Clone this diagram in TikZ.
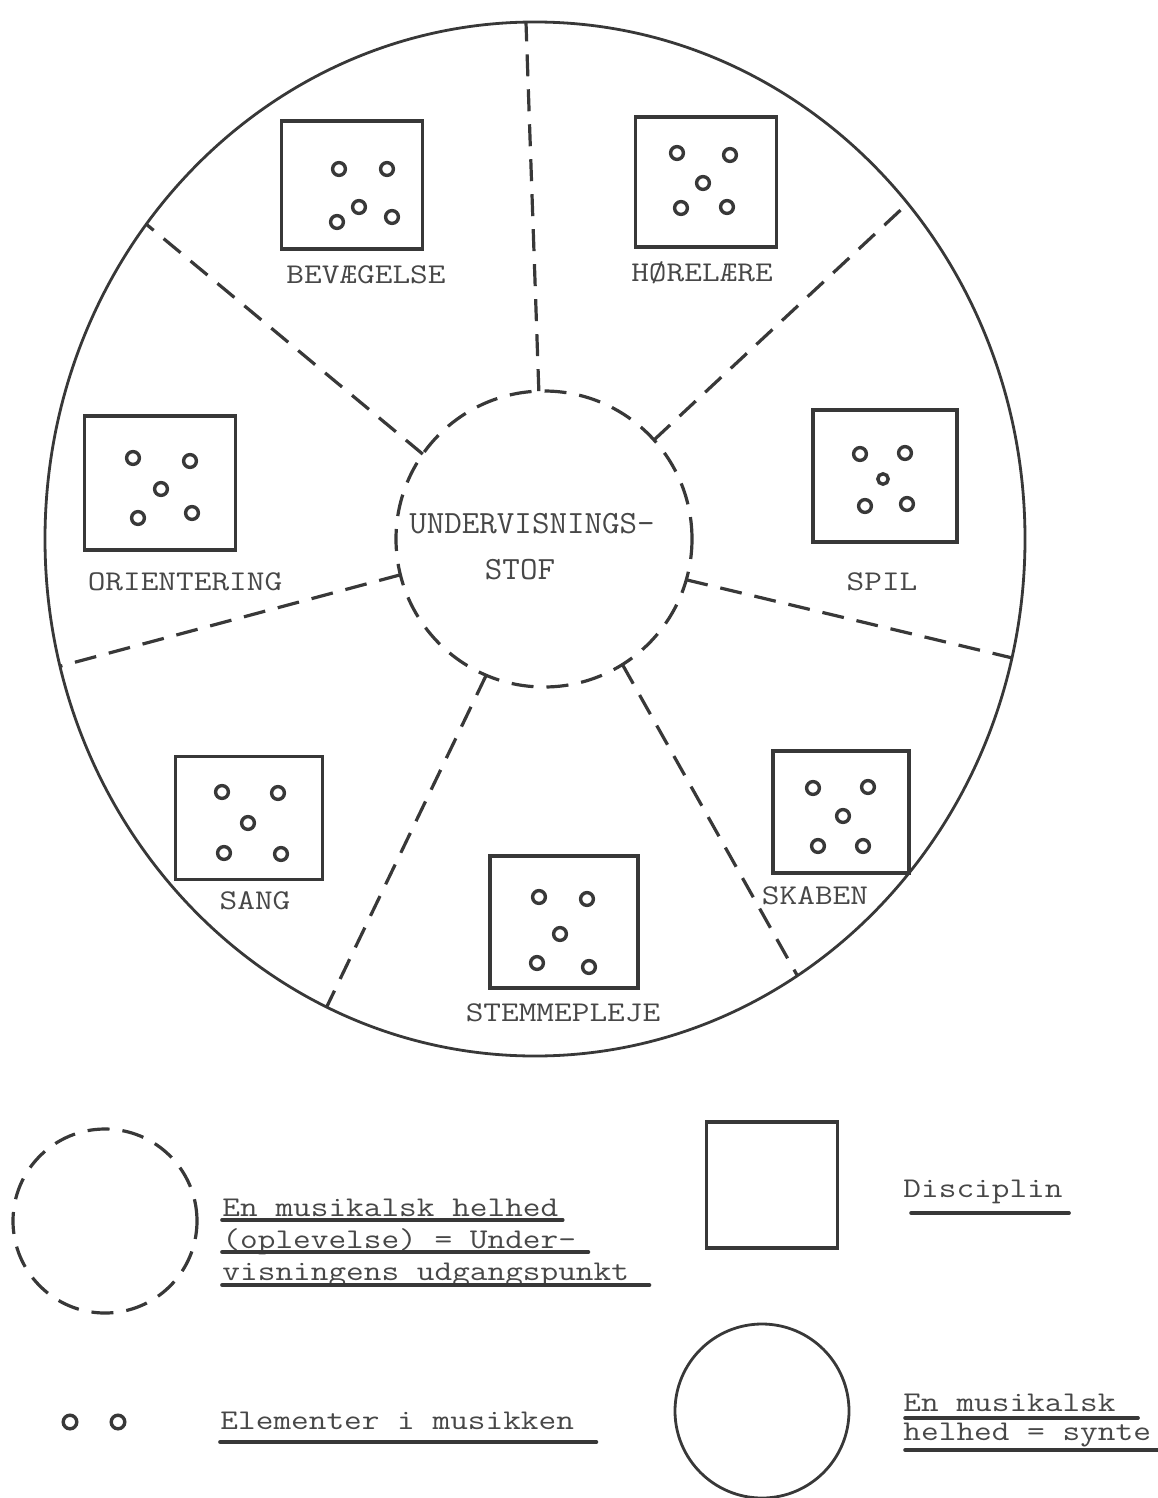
\documentclass[tikz,border=0pt]{standalone}
\usetikzlibrary{shapes.geometric}
\definecolor{ink}{gray}{0.22}
\definecolor{typeink}{gray}{0.28}
\newcommand{\typew}{\fontsize{14.3}{16}\selectfont\ttfamily}
\newcommand{\typec}{\fontsize{16.2}{18}\selectfont\ttfamily}
\begin{document}
\begin{tikzpicture}[x=0.5pt,y=-0.5pt,
	ring/.style={draw=ink,line width=1.4pt,inner sep=0pt,outer sep=0pt},
	dashline/.style={draw=ink,line width=1.6pt,dash pattern=on 11pt off 6.5pt,inner sep=0pt,outer sep=0pt},
	disc/.style={draw=ink,line width=1.8pt,inner sep=0pt,outer sep=0pt},
	elem/.style={draw=ink,line width=1.7pt},
	lbl/.style={font=\typew,text=typeink,xscale=1.2,inner sep=0pt},
	uline/.style={draw=ink,line width=1.8pt,line cap=round}]
	\useasboundingbox (0,0) rectangle (1157,1498);
	\node[ring,ellipse,minimum width=490pt,minimum height=517pt] (wheel) at (535,539) {};
	\node[dashline,circle,minimum size=148pt] (core) at (544,539) {};
	\node[font=\typec,text=typeink,xscale=1.05,inner sep=0pt] (core1) at (532,524) {UNDERVISNINGS-};
	\node[font=\typec,text=typeink,xscale=1.05,inner sep=0pt] (core2) at (520,570) {STOF};
	\draw[dashline] (core.92) -- (wheel.91);
	\draw[dashline] (core.42) -- (wheel.42);
	\draw[dashline] (core.-16) -- (wheel.-14);
	\draw[dashline] (core.-58) -- (wheel.-59);
	\draw[dashline] (core.-113) -- (wheel.-114);
	\draw[dashline] (core.194) -- (wheel.195);
	\draw[dashline] (core.145) -- (wheel.141);
	\node[disc,minimum width=70.5pt,minimum height=64pt] (bev) at (352,185) {};
	\node[lbl] (bevtxt) at (366,275) {BEVÆGELSE};
	\draw[elem] (339,169) circle (3.2pt) (387,169) circle (3.2pt) (359,207) circle (3.2pt)
		(337,222) circle (3.2pt) (392,217) circle (3.2pt);
	\node[disc,minimum width=70.5pt,minimum height=65pt] (hor) at (706,182) {};
	\node[lbl] (hortxt) at (702,273) {HØRELÆRE};
	\draw[elem] (677,153) circle (3.2pt) (730,155) circle (3.2pt) (703,183) circle (3.2pt)
		(681,208) circle (3.2pt) (727,207) circle (3.2pt);
	\node[disc,minimum width=72pt,minimum height=66pt] (spil) at (885,476) {};
	\node[lbl] (spiltxt) at (882,582) {SPIL};
	\draw[elem] (860,454) circle (3.2pt) (905,453) circle (3.2pt) (883,479) circle (2.6pt)
		(865,506) circle (3.2pt) (907,504) circle (3.2pt);
	\node[disc,minimum width=68pt,minimum height=61pt] (skab) at (841,812) {};
	\node[lbl] (skabtxt) at (815,896) {SKABEN};
	\draw[elem] (813,788) circle (3.2pt) (868,787) circle (3.2pt) (843,816) circle (3.2pt)
		(818,846) circle (3.2pt) (863,846) circle (3.2pt);
	\node[disc,minimum width=74pt,minimum height=66pt] (stem) at (564,922) {};
	\node[lbl] (stemtxt) at (563,1013) {STEMMEPLEJE};
	\draw[elem] (539,897) circle (3.2pt) (587,899) circle (3.2pt) (560,934) circle (3.2pt)
		(537,963) circle (3.2pt) (589,967) circle (3.2pt);
	\node[disc,minimum width=73.5pt,minimum height=61.5pt] (sang) at (249,818) {};
	\node[lbl] (sangtxt) at (255,901) {SANG};
	\draw[elem] (222,792) circle (3.2pt) (278,793) circle (3.2pt) (248,823) circle (3.2pt)
		(224,853) circle (3.2pt) (281,854) circle (3.2pt);
	\node[disc,minimum width=75.5pt,minimum height=67pt] (orie) at (160,483) {};
	\node[lbl] (orietxt) at (185,582) {ORIENTERING};
	\draw[elem] (133,458) circle (3.2pt) (190,461) circle (3.2pt) (161,489) circle (3.2pt)
		(138,518) circle (3.2pt) (192,513) circle (3.2pt);
	\node[dashline,circle,minimum size=92pt] (whole) at (105,1221) {};
	\node[lbl,anchor=base west] (whole1) at (222,1216) {En musikalsk helhed};
	\node[lbl,anchor=base west] (whole2) at (222,1248) {(oplevelse) = Under-};
	\node[lbl,anchor=base west] (whole3) at (222,1280) {visningens udgangspunkt};
	\draw[uline] ([yshift=-2pt]whole1.base west) -- ([xshift=2pt,yshift=-2pt]whole1.base east);
	\draw[uline] ([yshift=-2pt]whole2.base west) -- ([xshift=6pt,yshift=-2pt]whole2.base east);
	\draw[uline] ([yshift=-2.5pt]whole3.base west) -- ([xshift=10pt,yshift=-2.5pt]whole3.base east);
	\node[disc,minimum width=65.5pt,minimum height=63pt] (key) at (772,1185) {};
	\node[lbl,anchor=base west] (keytxt) at (903,1197) {Disciplin};
	\draw[uline] ([xshift=4pt,yshift=-8pt]keytxt.base west) -- ([xshift=3pt,yshift=-8pt]keytxt.base east);
	\draw[elem] (70,1422) circle (3.4pt) (118,1422) circle (3.4pt);
	\node[lbl,anchor=base west] (elemtxt) at (220,1429) {Elementer i musikken};
	\draw[uline] ([yshift=-6.5pt]elemtxt.base west) -- ([xshift=11pt,yshift=-6.5pt]elemtxt.base east);
	\node[ring,circle,minimum size=87pt] (synth) at (762,1411) {};
	\node[lbl,anchor=base west] (synth1) at (903,1411) {En musikalsk};
	\node[lbl,anchor=base west] (synth2) at (903,1440) {helhed = synte};
	\draw[uline] ([xshift=1pt,yshift=-3.5pt]synth1.base west) -- ([xshift=11pt,yshift=-3.5pt]synth1.base east);
	\draw[uline] ([xshift=1pt,yshift=-5pt]synth2.base west) -- ([xshift=6pt,yshift=-5pt]synth2.base east);
\end{tikzpicture}
\end{document}
